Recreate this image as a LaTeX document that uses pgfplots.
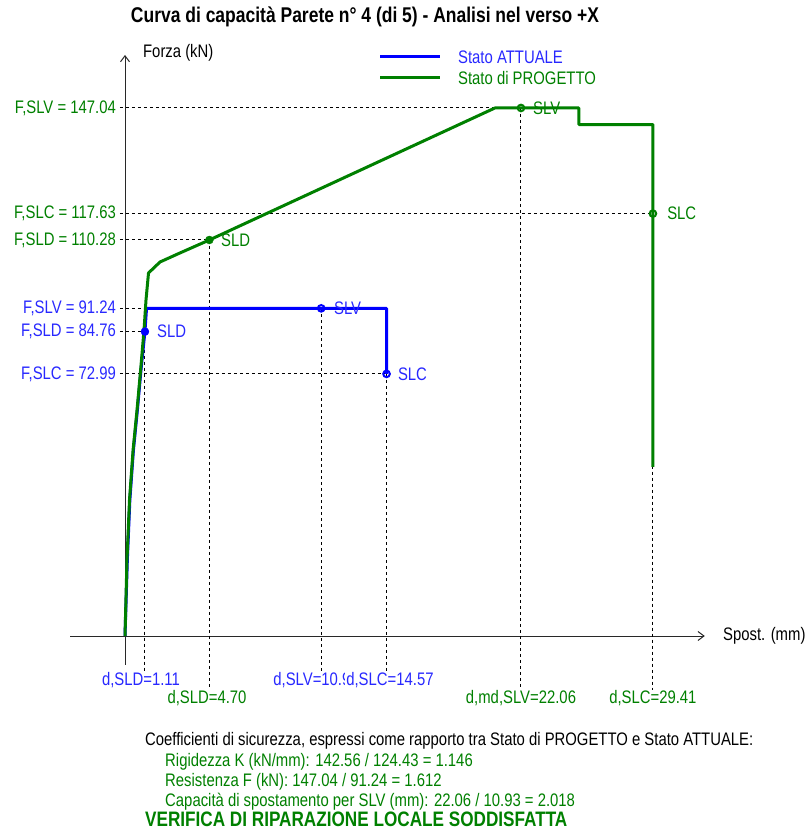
\documentclass[border=0pt]{standalone}
\usepackage{fontspec}
\setmainfont{Liberation Sans}[FakeStretch=0.82]
\usepackage{pgfplots}
\pgfplotsset{compat=1.18}
\usetikzlibrary{arrows.meta}
\definecolor{cblue}{RGB}{0,0,255}
\definecolor{cgreen}{RGB}{0,128,0}
\definecolor{lblue}{RGB}{40,40,255}
\definecolor{lgreen}{RGB}{0,128,0}
\definecolor{axcol}{RGB}{40,40,40}
\begin{document}
\fontsize{18.2}{20}\selectfont
\begin{tikzpicture}[every node/.style={inner sep=0pt}]
\begin{axis}[
  width=801bp, height=832bp, scale only axis,
  xmin=-6.964, xmax=37.660, ymin=-54.58, ymax=177.11,
  hide axis, clip=false,
]
\path (rel axis cs:0,0) rectangle (rel axis cs:1,1);
% axes
\draw[axcol, line width=1bp, -{Straight Barb[length=6bp,width=9bp]}] (axis cs:-3.06,0) -- (axis cs:32.3,0);
\draw[axcol, line width=1bp, -{Straight Barb[length=6bp,width=9bp]}] (axis cs:0,-8) -- (axis cs:0,161.8);
\node[anchor=west] at (axis cs:1.0,162.3) {Forza (kN)};
\node[anchor=west] at (axis cs:33.31,0) {Spost. (mm)};
% title
\node[font=\fontsize{21.4}{23}\selectfont\bfseries] at (axis cs:13.37,172.4) {Curva di capacità Parete n° 4 (di 5) - Analisi nel verso +X};
% legend
\addplot[cblue, line width=3bp] coordinates {(14.21,161.24) (17.55,161.24)};
\addplot[cgreen, line width=3bp] coordinates {(14.21,155.39) (17.55,155.39)};
\node[anchor=west, text=lblue] at (axis cs:18.55,161.24) {Stato ATTUALE};
\node[anchor=west, text=lgreen] at (axis cs:18.55,155.39) {Stato di PROGETTO};
% dashed reference lines
\pgfplotsset{refl/.style={black, line width=1bp, dash pattern=on 3bp off 3bp}}
\addplot[refl] coordinates {(-0.28,147.04) (22.06,147.04)};
\addplot[refl] coordinates {(-0.28,117.63) (29.41,117.63)};
\addplot[refl] coordinates {(-0.28,110.28) (4.70,110.28)};
\addplot[refl] coordinates {(-0.28,91.24) (10.93,91.24)};
\addplot[refl] coordinates {(-0.28,84.76) (1.11,84.76)};
\addplot[refl] coordinates {(-0.28,72.99) (14.57,72.99)};
\addplot[refl] coordinates {(1.11,84.76) (1.11,-10)};
\addplot[refl] coordinates {(10.93,91.24) (10.93,-10)};
\addplot[refl] coordinates {(14.57,72.99) (14.57,-10)};
\addplot[refl] coordinates {(4.70,110.28) (4.70,-15)};
\addplot[refl] coordinates {(22.06,147.04) (22.06,-15)};
\addplot[refl] coordinates {(29.41,117.63) (29.41,-15)};
% curves
\addplot[cblue, line width=3bp, line join=round] coordinates {
 (0,0) (0.13,21.16) (0.27,37.87) (0.47,51.8) (0.69,62.94) (0.89,74.07) (1.11,84.76) (1.2,91.24) (14.57,91.24) (14.57,72.99)};
\addplot[cgreen, line width=3bp, line join=round] coordinates {
 (0,0) (0.11,21.16) (0.25,37.87) (0.45,51.8) (0.67,62.94) (0.87,74.07) (1.06,85.21) (1.17,93.57) (1.31,101.09)
 (1.95,104.15) (3.06,106.66) (4.70,110.28) (20.61,147.04) (25.29,147.04) (25.29,142.4) (29.41,142.4) (29.41,47.1)};
% markers
\addplot[only marks, mark=*, mark size=4bp, cblue] coordinates {(1.11,84.76)};
\addplot[only marks, mark=o, mark size=3.3bp, cblue, mark options={line width=2bp, fill=white}] coordinates {(10.93,91.24) (14.57,72.99)};
\addplot[only marks, mark=*, mark size=4bp, cgreen] coordinates {(4.70,110.28)};
\addplot[only marks, mark=o, mark size=3.3bp, cgreen, mark options={line width=2bp, fill=white}] coordinates {(22.06,147.04) (29.41,117.63)};
% point labels
\node[anchor=west, text=lblue] at (axis cs:1.78,84.76) {SLD};
\node[anchor=west, text=lblue] at (axis cs:11.64,91.24) {SLV};
\node[anchor=west, text=lblue] at (axis cs:15.2,72.99) {SLC};
\node[anchor=west, text=lgreen] at (axis cs:5.35,110.28) {SLD};
\node[anchor=west, text=lgreen] at (axis cs:22.73,147.04) {SLV};
\node[anchor=west, text=lgreen] at (axis cs:30.2,117.63) {SLC};
% y labels
\node[anchor=east, text=lgreen] at (axis cs:-0.5,147.04) {F,SLV = 147.04};
\node[anchor=east, text=lgreen] at (axis cs:-0.5,117.63) {F,SLC = 117.63};
\node[anchor=east, text=lgreen] at (axis cs:-0.5,110.28) {F,SLD = 110.28};
\node[anchor=east, text=lblue] at (axis cs:-0.5,91.24) {F,SLV = 91.24};
\node[anchor=east, text=lblue] at (axis cs:-0.5,84.76) {F,SLD = 84.76};
\node[anchor=east, text=lblue] at (axis cs:-0.5,72.99) {F,SLC = 72.99};
% x labels
\node[text=lblue, fill=white] at (axis cs:0.89,-12.25) {d,SLD=1.11};
\node[text=lblue, fill=white] at (axis cs:10.64,-12.25) {d,SLV=10.93};
\node[text=lblue, fill=white, inner xsep=1bp] at (axis cs:14.76,-12.25) {d,SLC=14.57};
\node[text=lgreen, fill=white] at (axis cs:4.57,-17.27) {d,SLD=4.70};
\node[text=lgreen, fill=white] at (axis cs:22.06,-17.27) {d,md,SLV=22.06};
\node[text=lgreen, fill=white] at (axis cs:29.41,-17.27) {d,SLC=29.41};
% bottom text
\node[anchor=west] at (axis cs:1.11,-29.24) {Coefficienti di sicurezza, espressi come rapporto tra Stato di PROGETTO e Stato ATTUALE:};
\node[anchor=west, text=lgreen] at (axis cs:2.23,-35.09) {Rigidezza K (kN/mm): 142.56 / 124.43 = 1.146};
\node[anchor=west, text=lgreen] at (axis cs:2.23,-40.66) {Resistenza F (kN): 147.04 / 91.24 = 1.612};
\node[anchor=west, text=lgreen] at (axis cs:2.23,-46.23) {Capacità di spostamento per SLV (mm): 22.06 / 10.93 = 2.018};
\node[anchor=west, text=lgreen, font=\fontsize{21}{23}\selectfont\bfseries] at (axis cs:1.11,-51.1) {VERIFICA DI RIPARAZIONE LOCALE SODDISFATTA};
\end{axis}
\end{tikzpicture}
\end{document}
